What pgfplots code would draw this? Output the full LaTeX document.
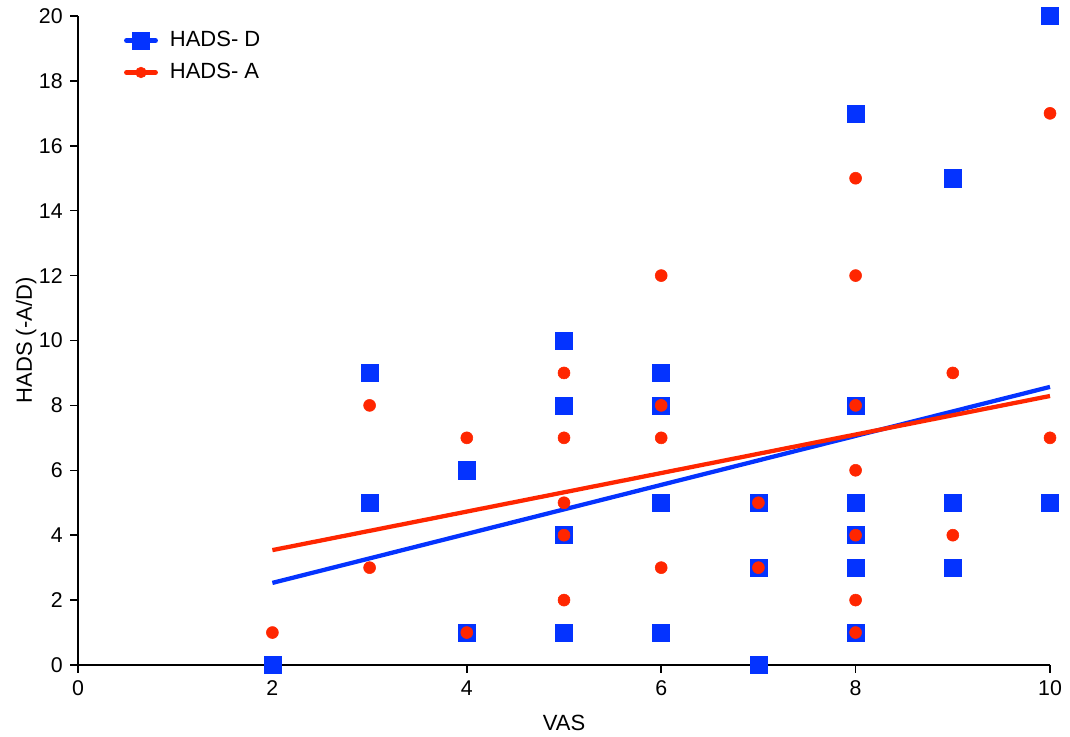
\documentclass[border=0pt]{standalone}
\usepackage{pgfplots}
\pgfplotsset{compat=1.18}
\usepackage{fontspec}
\setmainfont{Liberation Sans}
\definecolor{cblue}{RGB}{4,51,255}
\definecolor{cred}{RGB}{255,38,0}
\begin{document}
\begin{tikzpicture}
\fontsize{16}{19}\selectfont
\useasboundingbox (-58.5pt,-54pt) rectangle (744pt,498.75pt);
\begin{axis}[
  scale only axis,
  width=729pt, height=486.75pt,
  xmin=0, xmax=10, ymin=0, ymax=20,
  axis lines*=left,
  axis line style={line width=1.1pt},
  xtick={0,2,...,10}, ytick={0,2,...,20},
  tick align=outside,
  major tick length=6pt,
  tick style={line width=1.1pt, black},
  ticklabel style={font=\fontsize{16}{19}\selectfont},
  /pgf/number format/assume math mode=true,
  xlabel={VAS}, ylabel={HADS (-A/D)},
  label style={font=\fontsize{16.5}{19}\selectfont},
  xlabel style={yshift=-4pt},
  ylabel style={yshift=-9pt},
  clip=false,
  legend style={at={(0.043,0.985)}, anchor=north west, draw=none, fill=none,
    font=\fontsize{16.5}{19}\selectfont, row sep=6pt, column sep=7pt},
  legend cell align=left,
]
\addplot[only marks, mark=square*, mark size=6.4pt, color=cblue,
  legend image code/.code={
    \draw[line width=3.4pt,draw=cblue,line cap=round] (0pt,0pt)--(22pt,0pt);
    \fill[cblue] (4.5pt,-6.2pt) rectangle (17.5pt,6.2pt);}]
coordinates {
(2,0)(3,9)(3,5)(4,6)(4,1)(5,10)(5,8)(5,4)(5,1)(6,9)(6,8)(6,5)(6,1)
(7,5)(7,3)(7,0)(8,17)(8,8)(8,5)(8,4)(8,3)(8,1)(9,15)(9,5)(9,3)(10,20)(10,5)
};
\addlegendentry{HADS- D}
\addplot[only marks, mark=*, mark size=4.5pt, color=cred,
  legend image code/.code={
    \draw[line width=3.4pt,draw=cred,line cap=round] (0pt,0pt)--(22pt,0pt);
    \fill[cred] (11pt,0pt) circle (4pt);}]
coordinates {
(2,1)(3,8)(3,3)(4,7)(4,1)(5,9)(5,7)(5,5)(5,4)(5,2)(6,12)(6,8)(6,7)(6,3)
(7,5)(7,3)(8,15)(8,12)(8,8)(8,6)(8,4)(8,2)(8,1)(9,9)(9,4)(10,17)(10,7)
};
\addlegendentry{HADS- A}
\addplot[cblue, line width=3.2pt, forget plot] coordinates {(2,2.53)(10,8.57)};
\addplot[cred, line width=3.2pt, forget plot] coordinates {(2,3.54)(10,8.29)};
\end{axis}
\end{tikzpicture}
\end{document}
